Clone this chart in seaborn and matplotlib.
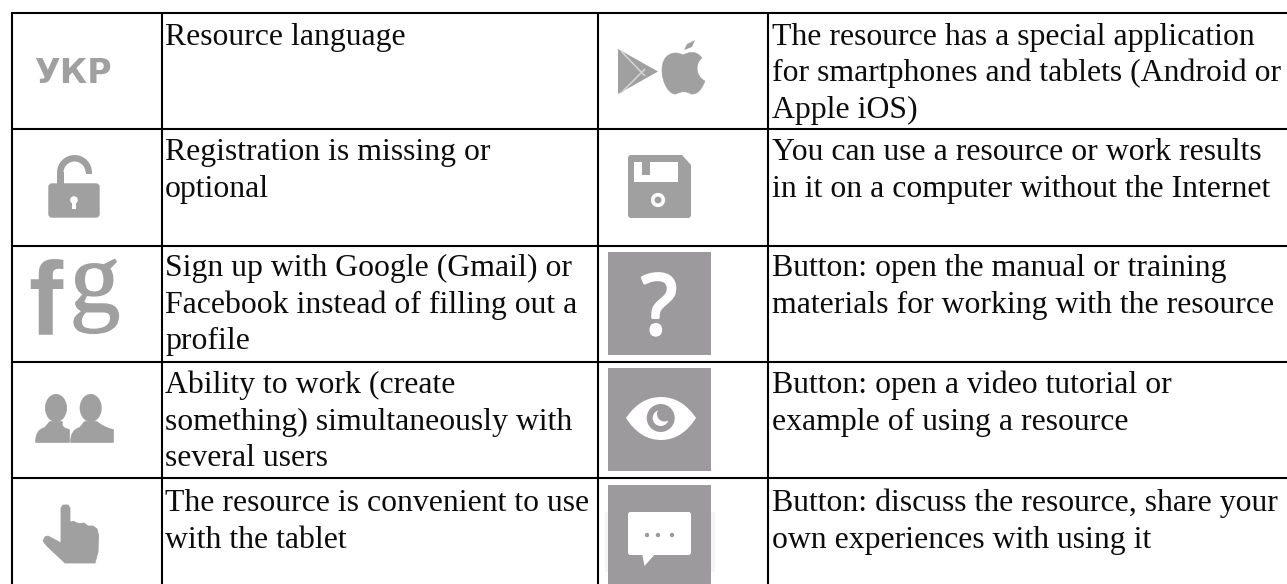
import matplotlib
matplotlib.use("Agg")
import matplotlib.pyplot as plt
import matplotlib.patheffects as pe
import pandas as pd
import seaborn as sns
from matplotlib.patches import Rectangle, Circle, Ellipse, Wedge, PathPatch, FancyBboxPatch, Polygon
from matplotlib.path import Path

left_descriptions = [
    ["Resource language"],
    ["Registration is missing or", "optional"],
    ["Sign up with Google (Gmail) or", "Facebook instead of filling out a", "profile"],
    ["Ability to work (create", "something) simultaneously with", "several users"],
    ["The resource is convenient to use", "with the tablet"],
]
right_descriptions = [
    ["The resource has a special application", "for smartphones and tablets (Android or", "Apple iOS)"],
    ["You can use a resource or work results", "in it on a computer without the Internet"],
    ["Button: open the manual or training", "materials for working with the resource"],
    ["Button: open a video tutorial or", "example of using a resource"],
    ["Button: discuss the resource, share your", "own experiences with using it"],
]
icon_label = "УКР"
row_baselines = [44.5, 160, 276, 393, 511]
column_rules = [12, 161.5, 597.5, 767.5]
row_rules = [13, 128.5, 245.5, 362, 477.5]

GREY = "#a0a0a0"
BOX = "#9c9a9d"

sns.set_theme(style="white")
plt.rcParams["font.family"] = ["Liberation Serif", "DejaVu Serif"]

fig = plt.figure(figsize=(12.87, 5.84), dpi=100)
ax = fig.add_axes([0, 0, 1, 1])

rules = []
for i, x in enumerate(column_rules):
    rules += [{"rule": f"c{i}", "x": x, "y": 12}, {"rule": f"c{i}", "x": x, "y": 584}]
for i, y in enumerate(row_rules):
    rules += [{"rule": f"r{i}", "x": 11, "y": y}, {"rule": f"r{i}", "x": 1287, "y": y}]
rules = pd.DataFrame(rules)
sns.lineplot(data=rules, x="x", y="y", units="rule", estimator=None, sort=False,
             color="black", linewidth=1.5, ax=ax, legend=False, zorder=3,
             solid_capstyle="butt")
ax.set_xlim(0, 1287)
ax.set_ylim(584, 0)
ax.axis("off")

FS = 22.85
for x0, col in ((165, left_descriptions), (771.5, right_descriptions)):
    for base, lines in zip(row_baselines, col):
        for k, line in enumerate(lines):
            ax.text(x0, base + k * 36.6, line, fontsize=FS, color="#0c0c0c", va="baseline", ha="left")

def add(p):
    ax.add_patch(p)
    return p

# language label
ax.text(73, 83, icon_label, fontsize=24, fontweight="bold", color=GREY, family="DejaVu Sans",
        ha="center", va="baseline")

# open padlock
add(Wedge((74.5, 172.5), 17.5, 180, 360, width=6.5, color=GREY, lw=0))
add(Rectangle((57, 172), 6.5, 12, color=GREY, lw=0))
add(Rectangle((85.5, 172), 6.5, 2, color=GREY, lw=0))
add(FancyBboxPatch((49, 184), 50, 33, boxstyle="round,pad=0,rounding_size=3", fc=GREY, ec=GREY, lw=1))
add(Circle((74, 200), 3.8, color="white", lw=0))
add(Rectangle((72.2, 201), 3.6, 8, color="white", lw=0))

# Facebook / Google letters
ax.text(45.5, 333, "f", fontsize=74, fontweight="bold", color=GREY, family="Liberation Sans", ha="center", va="baseline")
ax.text(95, 311.5, "g", fontsize=73, color=GREY, family="Liberation Serif", ha="center", va="baseline",
        path_effects=[pe.withStroke(linewidth=1.0, foreground=GREY)])

# two users
for cx, left, right in ((56, 36, 69), (90.7, 71, 113)):
    add(Ellipse((cx, 408), 22, 28, color=GREY, lw=0))
    body = Path(
        [(left, 442), (left, 430), (left + 9, 428), (cx - 6, 422), (cx + 6, 422),
         (right - 9, 428), (right, 430), (right, 442), (left, 442)],
        [Path.MOVETO, Path.CURVE3, Path.CURVE3, Path.LINETO, Path.LINETO,
         Path.CURVE3, Path.CURVE3, Path.LINETO, Path.CLOSEPOLY])
    add(PathPatch(body, fc=GREY, ec=GREY, lw=1.2, joinstyle="round"))

# pointing hand
add(Polygon([(61, 508), (63, 505), (68, 505), (70, 508), (70, 522), (74, 521.5), (77, 523), (80, 523.5),
             (84, 523), (88, 526), (93, 526), (97, 529), (98.5, 535), (98, 552), (95, 563), (65, 563),
             (47, 546), (43, 541), (45, 537), (48, 536), (61, 543)],
            fc=GREY, ec=GREY, lw=0.6, joinstyle="round"))

# play triangle and apple
add(Polygon([(618, 49), (658, 71.5), (618, 94)], color=GREY, lw=0))
for seg in ([(621, 51), (645, 76)], [(621, 93), (645, 69)]):
    ax.plot(*zip(*seg), color="#d6d6d6", lw=1.1, solid_capstyle="butt")
apple = Path(
    [(683, 55), (674, 50), (662, 54), (662, 70), (662, 84), (670, 95), (676, 94), (682, 91), (686, 91),
     (691, 94), (699, 95), (703, 86), (705, 81), (695, 76), (695, 63), (702, 58), (696, 50), (689, 52),
     (683, 55)],
    [Path.MOVETO] + [Path.CURVE4] * 18)
add(PathPatch(apple, fc=GREY, ec=GREY, lw=0.4))
add(Polygon([(684, 50), (687, 44), (695, 40), (692, 47)], color=GREY, lw=0))

# floppy disk
add(Polygon([(628, 157), (630, 155), (682, 155), (691, 165), (691, 216), (689, 218), (630, 218), (628, 216)],
            color=GREY, lw=0))
add(Rectangle((634, 162), 44, 19.5, color="white", lw=0))
add(Rectangle((642, 162), 7.5, 13, color=GREY, lw=0))
add(Circle((658, 200), 5.3, fc=GREY, ec="white", lw=2.6))

# buttons
add(Rectangle((605, 512), 110, 60, color="#f6f6f6", lw=0))
for top, bottom in ((251.7, 355), (367.7, 471), (485, 584)):
    add(Rectangle((607.7, top), 103.3, bottom - top, color=BOX, lw=0))

ax.text(659, 334, "?", fontsize=60, color="white", family="Open Sans", ha="center", va="baseline",
        path_effects=[pe.withStroke(linewidth=2.2, foreground="white")])

eye = Path([(626, 418), (640, 397), (661, 397), (682, 397), (696, 418), (682, 440), (661, 440), (640, 440), (626, 418)],
           [Path.MOVETO, Path.CURVE3, Path.CURVE3, Path.CURVE3, Path.CURVE3, Path.CURVE3, Path.CURVE3, Path.CURVE3, Path.CURVE3])
add(PathPatch(eye, fc="white", ec="white", lw=0))
add(Circle((660.7, 418), 14, color=BOX, lw=0))
add(Circle((660.7, 418), 8, color="white", lw=0))
add(Circle((664.5, 414), 7.5, color=BOX, lw=0))

add(FancyBboxPatch((628, 512), 63, 43, boxstyle="round,pad=0,rounding_size=2.5", fc="white", ec="white", lw=0))
add(Polygon([(642, 553), (656, 553), (644.5, 566)], color="white", lw=0))
for cx in (647, 658, 672):
    add(Circle((cx, 535), 2.2, color=BOX, lw=0))

fig.savefig("out.png", dpi=100, facecolor="white")
